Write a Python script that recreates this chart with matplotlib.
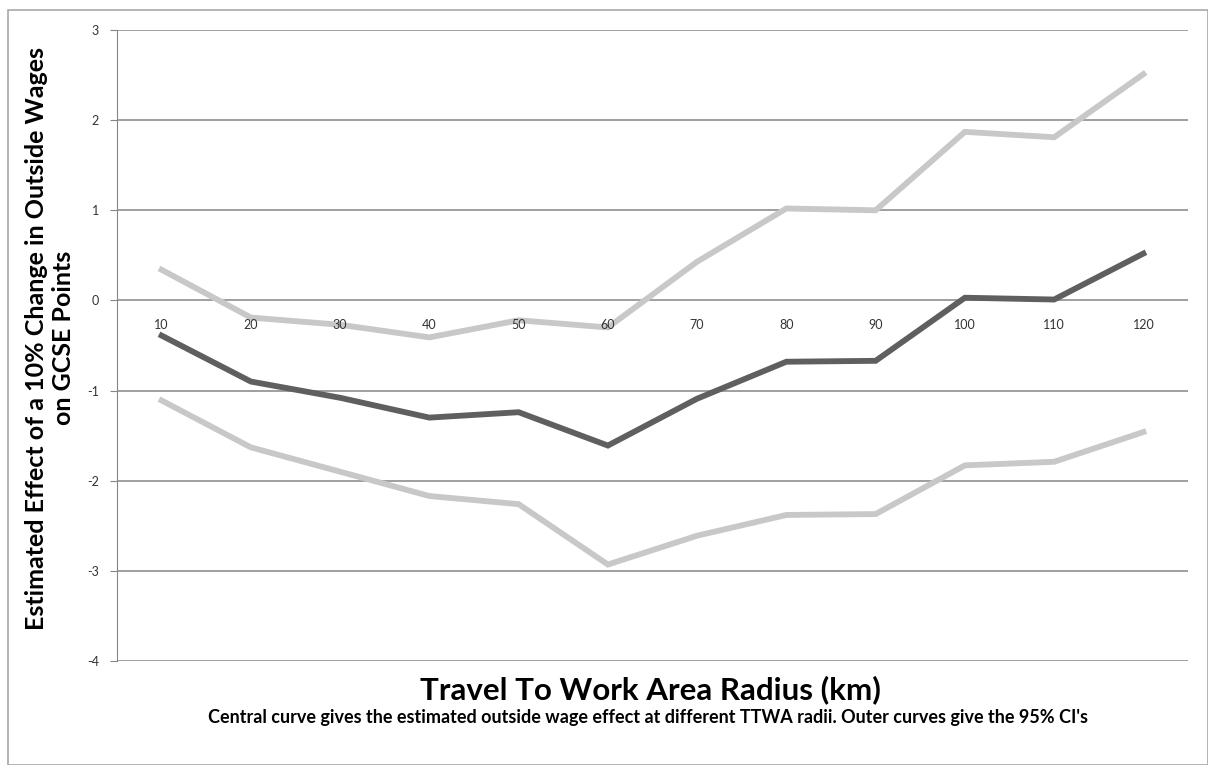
import matplotlib.pyplot as plt
from matplotlib.patches import Rectangle
import numpy as np

plt.rcParams['font.family'] = ['Lato', 'DejaVu Sans']

radius = [10, 20, 30, 40, 50, 60, 70, 80, 90, 100, 110, 120]
effect = [-0.39, -0.90, -1.08, -1.30, -1.24, -1.61, -1.09, -0.68, -0.67, 0.03, 0.01, 0.52]
ci_upper = [0.34, -0.19, -0.27, -0.41, -0.22, -0.30, 0.43, 1.02, 1.00, 1.87, 1.81, 2.51]
ci_lower = [-1.11, -1.63, -1.90, -2.17, -2.26, -2.93, -2.61, -2.38, -2.37, -1.83, -1.79, -1.46]

fig = plt.figure(figsize=(12.08, 7.65), dpi=100)
ax = fig.add_axes([117/1208, 1-661/765, 1071/1208, 631/765])

# outer frame
fig.patches.append(Rectangle((8/1208, 0), 1200/1208, 1-10/765, transform=fig.transFigure,
                             fill=False, edgecolor='#a8a8a8', lw=1.2))

x = np.arange(len(radius))
ax.plot(x, ci_upper, color='#c8c8c8', lw=4.2, solid_joinstyle='miter', zorder=3)
ax.plot(x, ci_lower, color='#c8c8c8', lw=4.2, solid_joinstyle='miter', zorder=3)
ax.plot(x, effect, color='#5f5f5f', lw=4.2, solid_joinstyle='miter', zorder=4)

ax.set_xlim(-0.5, len(radius) - 0.5)
ax.set_ylim(-4, 3)
ax.set_yticks(range(-4, 4))
ax.set_yticklabels([str(v) for v in range(-4, 4)], fontsize=9, color='#333333')
ax.yaxis.grid(True, color='#858585', lw=1.1)
ax.set_axisbelow(True)
ax.tick_params(axis='y', length=5, color='#858585', pad=8)
ax.set_xticks([])
for s in ['top', 'right', 'bottom']:
    ax.spines[s].set_visible(False)
ax.spines['left'].set_color('#858585')

# category labels sit just under the zero line
for xi, r in zip(x, radius):
    ax.annotate(str(r), (xi, 0), xytext=(0, -18), textcoords='offset points',
                ha='center', va='center', fontsize=9, color='#333333')

fig.text(50/1208, 1-338/765, 'Estimated Effect of a 10% Change in Outside Wages\non GCSE Points',
         rotation=90, ha='center', va='center', fontsize=18, fontweight='bold',
         linespacing=1.25)
fig.text(650/1208, 1-690/765, 'Travel To Work Area Radius (km)', ha='center', va='center',
         fontsize=22.5, fontweight='bold')
fig.text(648/1208, 1-718/765,
         "Central curve gives the estimated outside wage effect at different TTWA radii. Outer curves give the 95% CI's",
         ha='center', va='center', fontsize=13, fontweight='bold')

fig.savefig('out.png', dpi=100)
